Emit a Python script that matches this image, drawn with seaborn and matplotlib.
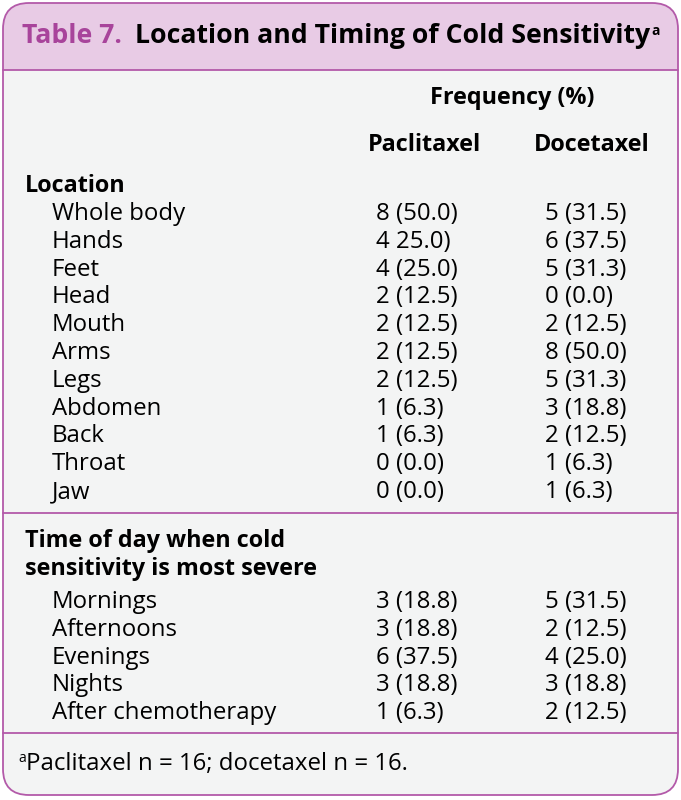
"""Table 7: location and timing of cold sensitivity"""

import pandas as pd
import matplotlib.pyplot as plt
import seaborn as sns
from matplotlib.patches import FancyBboxPatch, Rectangle

W, H = 681, 800
FONT = 'Open Sans'
PURPLE = '#b35aa9'
TITLE_PURPLE = '#a8449b'
PINK = '#e8cbe5'
BODY = '#f3f4f4'

location_labels = ['Whole body', 'Hands', 'Feet', 'Head', 'Mouth', 'Arms',
                   'Legs', 'Abdomen', 'Back', 'Throat', 'Jaw']
location_pac = ['8 (50.0)', '4 25.0)', '4 (25.0)', '2 (12.5)', '2 (12.5)',
                '2 (12.5)', '2 (12.5)', '1 (6.3)', '1 (6.3)', '0 (0.0)',
                '0 (0.0)']
location_doc = ['5 (31.5)', '6 (37.5)', '5 (31.3)', '0 (0.0)', '2 (12.5)',
                '8 (50.0)', '5 (31.3)', '3 (18.8)', '2 (12.5)', '1 (6.3)',
                '1 (6.3)']
time_labels = ['Mornings', 'Afternoons', 'Evenings', 'Nights',
               'After chemotherapy']
time_pac = ['3 (18.8)', '3 (18.8)', '6 (37.5)', '3 (18.8)', '1 (6.3)']
time_doc = ['5 (31.5)', '2 (12.5)', '4 (25.0)', '3 (18.8)', '2 (12.5)']

loc_df = pd.DataFrame({'label': location_labels, 'pac': location_pac,
                       'doc': location_doc})
time_df = pd.DataFrame({'label': time_labels, 'pac': time_pac,
                        'doc': time_doc})

sns.set_theme(style='white')
plt.rcParams['font.family'] = [FONT, 'DejaVu Sans']
plt.rcParams['text.color'] = 'black'

fig = plt.figure(figsize=(W / 100, H / 100), dpi=100)
ax = fig.add_axes([0, 0, 1, 1])
ax.set_xlim(0, W)
ax.set_ylim(H, 0)
ax.axis('off')


def right_of(txt):
    """x (data) of the right edge of a drawn text"""
    fig.canvas.draw()
    return txt.get_window_extent().transformed(ax.transData.inverted()).x1


# Box with rounded corners ################################################
box = FancyBboxPatch((3, 3), 675, 792, boxstyle='round,pad=0,rounding_size=26',
                     facecolor=BODY, edgecolor='none', zorder=1)
ax.add_patch(box)
header = Rectangle((0, 0), W, 70, facecolor=PINK, edgecolor='none', zorder=2)
ax.add_patch(header)
header.set_clip_path(box)
ax.add_patch(FancyBboxPatch((3, 3), 675, 792,
                            boxstyle='round,pad=0,rounding_size=26',
                            facecolor='none', edgecolor=PURPLE, lw=1.3,
                            zorder=5))
for y in (70, 513, 733):
    ax.plot([3, 678], [y, y], color=PURPLE, lw=1.3, zorder=5)

# Title ################################################
FS = 17.3      # regular body text
BFS = 16.8     # bold body text
TFS = 19.2     # title
t = ax.text(22, 43, 'Table 7.', color=TITLE_PURPLE, fontsize=TFS,
            fontweight='bold', va='baseline', zorder=6)
t2 = ax.text(right_of(t) + 13, 43, 'Location and Timing of Cold Sensitivity',
             color='black', fontsize=TFS, fontweight='bold', va='baseline',
             zorder=6)
ax.text(right_of(t2) + 1, 35, 'a', fontsize=10, fontweight='bold',
        va='baseline', zorder=6)

# Column headers ################################################
ax.text(512, 104, 'Frequency (%)', fontsize=BFS, fontweight='bold',
        ha='center', va='baseline')
ax.text(424, 151, 'Paclitaxel', fontsize=BFS, fontweight='bold',
        ha='center', va='baseline')
ax.text(592, 151, 'Docetaxel', fontsize=BFS, fontweight='bold',
        ha='center', va='baseline')

STEP = 27.8
ax.text(25, 192, 'Location', fontsize=BFS, fontweight='bold', va='baseline')
for i, row in loc_df.iterrows():
    y = 220 + STEP * i
    ax.text(52, y, row['label'], fontsize=FS, va='baseline')
    ax.text(376, y, row['pac'], fontsize=FS, va='baseline')
    ax.text(545, y, row['doc'], fontsize=FS, va='baseline')

ax.text(25, 547, 'Time of day when cold', fontsize=BFS, fontweight='bold',
        va='baseline')
ax.text(25, 575, 'sensitivity is most severe', fontsize=BFS,
        fontweight='bold', va='baseline')
for i, row in time_df.iterrows():
    y = 608 + STEP * i
    ax.text(52, y, row['label'], fontsize=FS, va='baseline')
    ax.text(376, y, row['pac'], fontsize=FS, va='baseline')
    ax.text(545, y, row['doc'], fontsize=FS, va='baseline')

# Footnote ################################################
ax.text(18, 762, 'a', fontsize=10, va='baseline')
ax.text(26, 770, 'Paclitaxel n = 16; docetaxel n = 16.', fontsize=FS,
        va='baseline')

fig.savefig('out.png', dpi=100)
plt.close(fig)
